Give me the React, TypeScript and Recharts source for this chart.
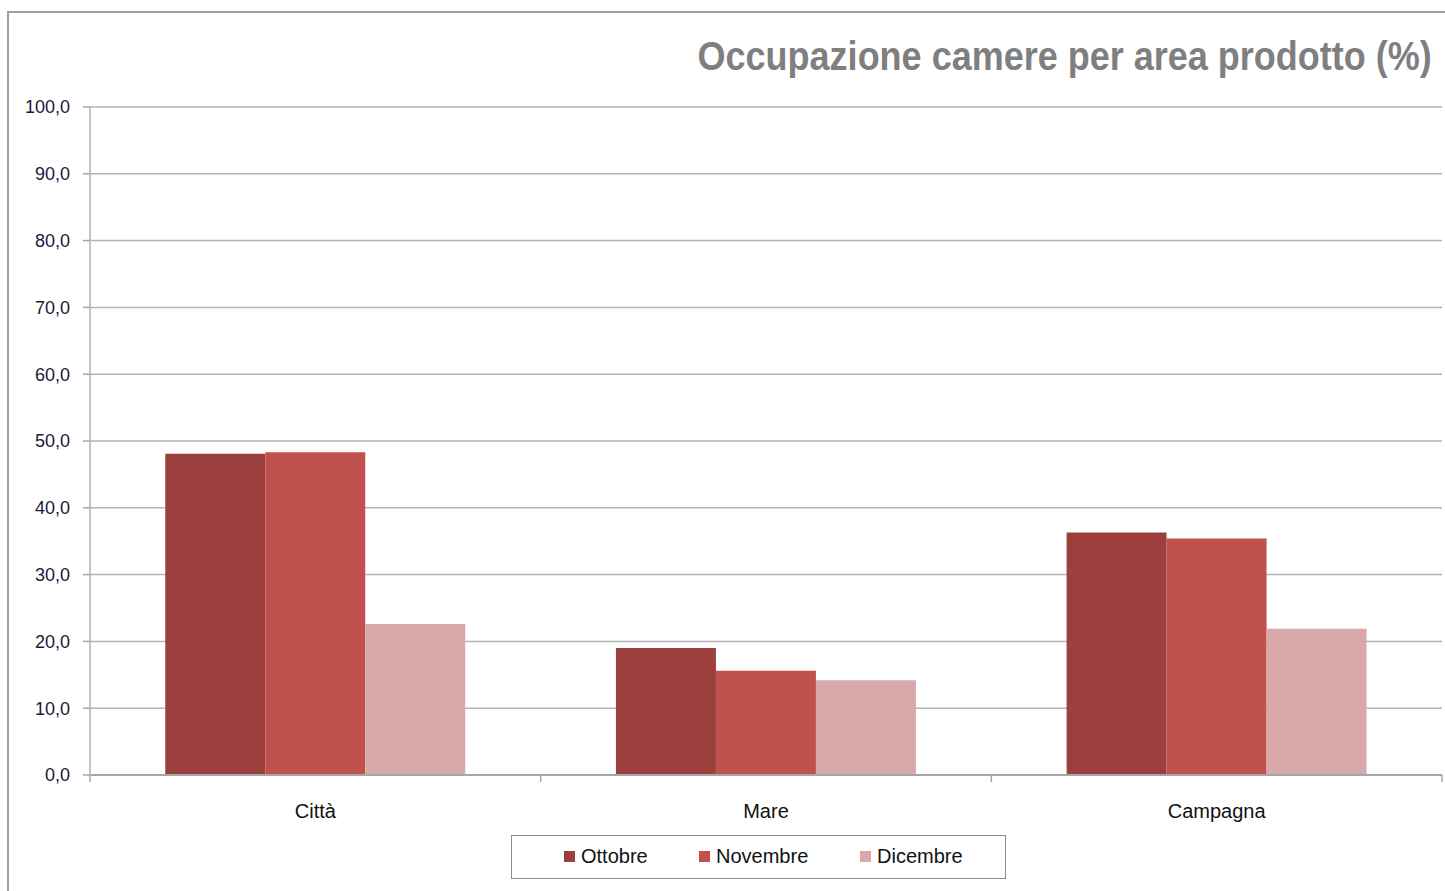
import React from 'react';
import { BarChart, Bar, XAxis, YAxis, CartesianGrid } from 'recharts';

const areas = ['Città', 'Mare', 'Campagna'];
const ottobre = [48.1, 19.0, 36.3];
const novembre = [48.3, 15.6, 35.4];
const dicembre = [22.6, 14.2, 21.9];
const yTicks = [0, 10, 20, 30, 40, 50, 60, 70, 80, 90, 100];

const series = [
  { key: 'ottobre', name: 'Ottobre', color: '#9c403e' },
  { key: 'novembre', name: 'Novembre', color: '#c0514f' },
  { key: 'dicembre', name: 'Dicembre', color: '#d9a9a9' },
];

const data = areas.map((area, i) => ({
  area,
  ottobre: ottobre[i],
  novembre: novembre[i],
  dicembre: dicembre[i],
}));

const FONT = "'Liberation Sans', Arial, sans-serif";
const AXIS = '#a6a6a6';
const TICK_SIZE = 7;
const TICK_MARGIN = 18;

// category label plus Excel-style tick marks on the category boundaries
function CategoryTick(props: any) {
  const { x, y, payload, visibleTicksCount } = props;
  const half = payload.offset ?? 0;
  const axisY = y - TICK_SIZE - TICK_MARGIN;
  const last = payload.index === visibleTicksCount - 1;
  return (
    <g>
      <line x1={x - half} x2={x - half} y1={axisY} y2={axisY + TICK_SIZE} stroke={AXIS} strokeWidth={1.5} />
      {last && <line x1={x + half} x2={x + half} y1={axisY} y2={axisY + TICK_SIZE} stroke={AXIS} strokeWidth={1.5} />}
      <text x={x} y={y} dy="0.9em" textAnchor="middle" fill="#111" fontSize={20} fontFamily={FONT}>
        {payload.value}
      </text>
    </g>
  );
}

export default function App() {
  return (
    <div style={{ position: 'absolute', left: 0, top: 0, width: 1445, height: 891, background: '#fff', overflow: 'hidden', fontFamily: FONT }}>
      <div style={{ position: 'absolute', left: 7, top: 11, width: 1460, height: 900, borderLeft: '2px solid #a0a0a0', borderTop: '2px solid #a0a0a0' }} />
      <div
        style={{
          position: 'absolute',
          right: 13,
          top: 34,
          fontFamily: "'Liberation Sans Narrow', 'Arial Narrow', 'Liberation Sans', sans-serif",
          fontWeight: 700,
          fontSize: 40,
          color: '#7f7f7f',
          whiteSpace: 'nowrap',
          transform: 'scaleX(0.9)',
          transformOrigin: 'right center',
        }}
      >
        Occupazione camere per area prodotto (%)
      </div>
      <div style={{ position: 'absolute', left: 0, top: 0 }}>
        <BarChart
          width={1445}
          height={891}
          data={data}
          margin={{ top: 107, right: 3, bottom: 86, left: 0 }}
          barCategoryGap="16.7%"
          barGap={0}
        >
          <CartesianGrid vertical={false} stroke="#b3b3b3" strokeWidth={1.5} />
          <XAxis
            dataKey="area"
            height={30}
            tickSize={TICK_SIZE}
            tickMargin={TICK_MARGIN}
            tickLine={false}
            axisLine={{ stroke: AXIS, strokeWidth: 2 }}
            tick={<CategoryTick />}
          />
          <YAxis
            width={90}
            domain={[0, 100]}
            ticks={yTicks}
            interval={0}
            tickSize={7}
            tickMargin={13}
            tickFormatter={(v: number) => v.toFixed(1).replace('.', ',')}
            axisLine={{ stroke: '#c4c4c4', strokeWidth: 2 }}
            tickLine={{ stroke: AXIS, strokeWidth: 1.5 }}
            tick={{ fill: '#1a1a3a', fontSize: 18, fontFamily: FONT }}
          />
          {series.map((s) => (
            <Bar key={s.key} dataKey={s.key} name={s.name} fill={s.color} isAnimationActive={false} />
          ))}
        </BarChart>
      </div>
      <div
        style={{
          position: 'absolute',
          left: 511,
          top: 835,
          width: 495,
          height: 44,
          border: '1.5px solid #8c8c8c',
          boxSizing: 'border-box',
        }}
      >
        {series.map((s, i) => (
          <div
            key={s.key}
            style={{ position: 'absolute', left: [52, 187, 348][i], top: 9, display: 'flex', alignItems: 'center', fontSize: 20, color: '#111', whiteSpace: 'nowrap' }}
          >
            <span style={{ display: 'inline-block', width: 11, height: 11, background: s.color, marginRight: 6 }} />
            {s.name}
          </div>
        ))}
      </div>
    </div>
  );
}
